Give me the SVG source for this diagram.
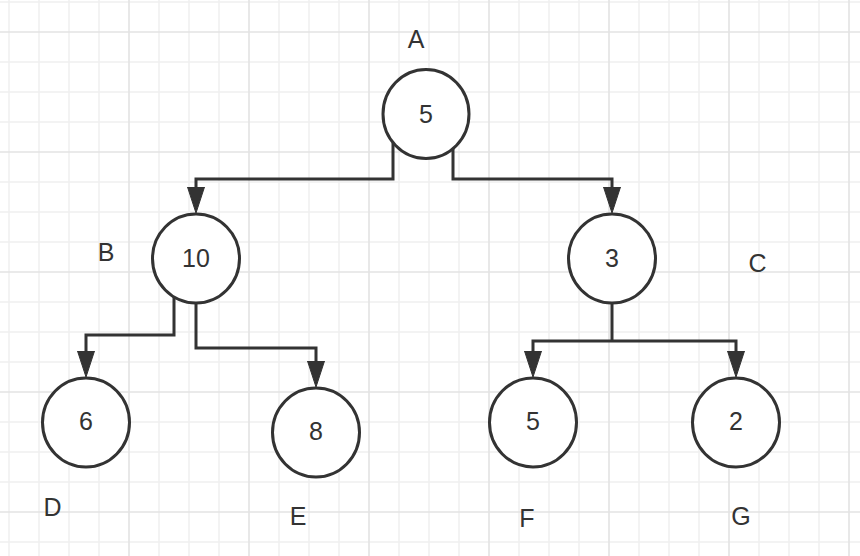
<svg xmlns="http://www.w3.org/2000/svg" width="860" height="556" viewBox="0 0 860 556">
  <style>
    .grid-minor { stroke: #f0f0f0; stroke-width: 1.6; fill: none; }
    .grid-major { stroke: #e3e3e3; stroke-width: 1.6; fill: none; }
    .node { fill: #ffffff; stroke: #333333; stroke-width: 3; }
    .edge { fill: none; stroke: #333333; stroke-width: 3; marker-end: url(#arrow); }
    .line { fill: none; stroke: #333333; stroke-width: 3; }
    text { font-family: "Liberation Sans", Arial, Helvetica, sans-serif; font-size: 25px; fill: #333333; text-anchor: middle; }
  </style>
  <defs>
    <marker id="arrow" markerUnits="userSpaceOnUse" markerWidth="28" markerHeight="20" refX="0" refY="9" orient="auto" viewBox="0 0 28 18">
      <path d="M0 0.5 L26 9 L0 17.5 Z" fill="#333333" stroke="#333333" stroke-width="1"/>
    </marker>
  </defs>

  <!-- background grid -->
  <rect width="860" height="556" fill="#ffffff"/>
  <path class="grid-minor" d="M9 0V556 M39 0V556 M69 0V556 M99 0V556 M159 0V556 M189 0V556 M219 0V556 M279 0V556 M309 0V556 M339 0V556 M399 0V556 M429 0V556 M459 0V556 M519 0V556 M549 0V556 M579 0V556 M639 0V556 M669 0V556 M699 0V556 M759 0V556 M789 0V556 M819 0V556 M0 2H860 M0 62H860 M0 92H860 M0 122H860 M0 182H860 M0 212H860 M0 242H860 M0 302H860 M0 332H860 M0 362H860 M0 422H860 M0 452H860 M0 482H860 M0 542H860"/>
  <path class="grid-major" d="M129 0V556 M249 0V556 M369 0V556 M489 0V556 M609 0V556 M729 0V556 M849 0V556 M0 32H860 M0 152H860 M0 272H860 M0 392H860 M0 512H860"/>

  <!-- connectors -->
  <g id="connectors">
    <path class="edge" d="M393 143 V179 H196 V187"/>
    <path class="edge" d="M453 143 V179 H612 V187"/>
    <path class="edge" d="M174 293 V335 H86 V351"/>
    <path class="edge" d="M196 303 V348 H316 V361"/>
    <path class="line" d="M612 303 V341"/>
    <path class="edge" d="M612 341 H533 V351"/>
    <path class="edge" d="M612 341 H736 V351"/>
  </g>

  <!-- nodes -->
  <g id="node-A">
    <ellipse class="node" cx="426" cy="114" rx="43" ry="44.5"/>
    <text x="426" y="123">5</text>
    <text x="416" y="48">A</text>
  </g>
  <g id="node-B">
    <ellipse class="node" cx="196" cy="258.5" rx="43.5" ry="44.5"/>
    <text x="196" y="267">10</text>
    <text x="106" y="261">B</text>
  </g>
  <g id="node-C">
    <ellipse class="node" cx="612" cy="258.5" rx="43.5" ry="44.5"/>
    <text x="612" y="267">3</text>
    <text x="757.5" y="272">C</text>
  </g>
  <g id="node-D">
    <ellipse class="node" cx="86" cy="422.5" rx="43.5" ry="44.5"/>
    <text x="86" y="430">6</text>
    <text x="52.5" y="515.5">D</text>
  </g>
  <g id="node-E">
    <ellipse class="node" cx="316" cy="432.5" rx="43.5" ry="44.5"/>
    <text x="316" y="440">8</text>
    <text x="298" y="524.5">E</text>
  </g>
  <g id="node-F">
    <ellipse class="node" cx="533" cy="422.5" rx="43.5" ry="44.5"/>
    <text x="533" y="430">5</text>
    <text x="527" y="527">F</text>
  </g>
  <g id="node-G">
    <ellipse class="node" cx="736" cy="422.5" rx="43.5" ry="44.5"/>
    <text x="736" y="430">2</text>
    <text x="741" y="525">G</text>
  </g>
</svg>
